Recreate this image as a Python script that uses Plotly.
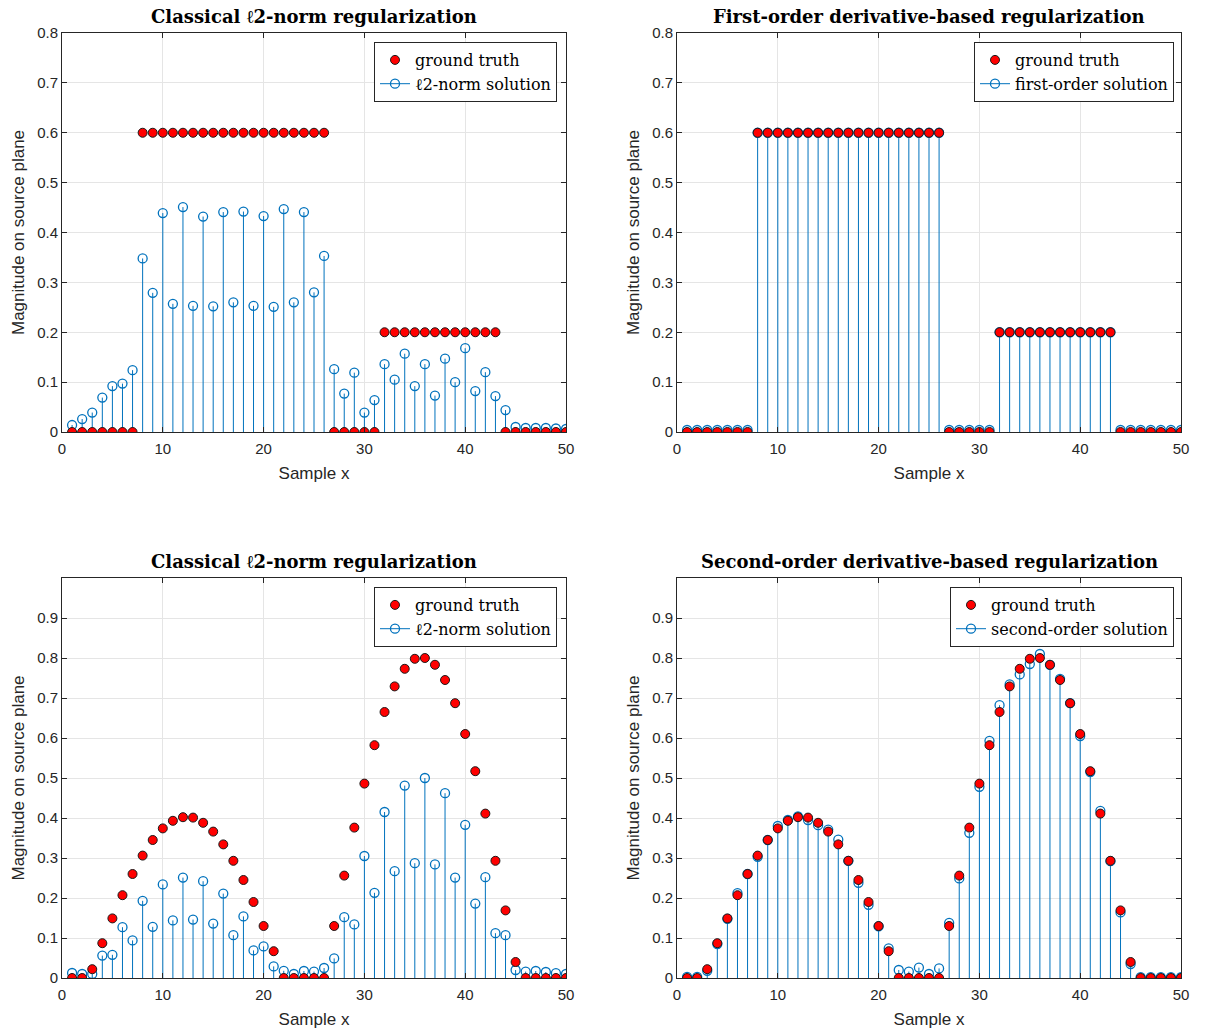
import plotly.graph_objects as go

# ---------------- data ----------------
x = list(range(1, 51))

gt_top = [0.0]*7 + [0.6]*19 + [0.0]*5 + [0.2]*12 + [0.0]*7

l2_top = [0.014, 0.026, 0.039, 0.069, 0.092, 0.097, 0.124, 0.348, 0.279, 0.439,
          0.257, 0.451, 0.253, 0.432, 0.252, 0.441, 0.260, 0.442, 0.253, 0.433,
          0.251, 0.447, 0.260, 0.441, 0.280, 0.353, 0.126, 0.077, 0.119, 0.039,
          0.064, 0.136, 0.105, 0.157, 0.092, 0.136, 0.073, 0.147, 0.100, 0.168,
          0.082, 0.120, 0.072, 0.044, 0.010, 0.008, 0.008, 0.008, 0.007, 0.006]

first_order = [0.004]*7 + [0.6]*19 + [0.004]*5 + [0.2]*12 + [0.004]*7

gt_bottom = [0.0, 0.0, 0.022, 0.087, 0.149, 0.207, 0.260, 0.306, 0.345, 0.374,
             0.393, 0.402, 0.401, 0.388, 0.366, 0.334, 0.293, 0.245, 0.190, 0.130,
             0.067, 0.0, 0.0, 0.0, 0.0, 0.0, 0.130, 0.256, 0.376, 0.486,
             0.582, 0.665, 0.729, 0.773, 0.798, 0.800, 0.783, 0.745, 0.687, 0.610,
             0.517, 0.411, 0.293, 0.169, 0.040, 0.0, 0.0, 0.0, 0.0, 0.0]

l2_bottom = [0.0125, 0.010, 0.010, 0.056, 0.058, 0.127, 0.094, 0.193, 0.128, 0.234,
             0.144, 0.251, 0.146, 0.242, 0.136, 0.211, 0.107, 0.154, 0.069, 0.079,
             0.029, 0.018, 0.010, 0.0175, 0.016, 0.025, 0.049, 0.152, 0.134, 0.305,
             0.213, 0.415, 0.267, 0.481, 0.287, 0.500, 0.284, 0.462, 0.251, 0.383,
             0.186, 0.252, 0.112, 0.107, 0.020, 0.016, 0.0175, 0.015, 0.012, 0.010]

second_order = [0.003, 0.003, 0.018, 0.085, 0.148, 0.212, 0.260, 0.303, 0.345, 0.380,
                0.395, 0.404, 0.395, 0.382, 0.371, 0.346, 0.293, 0.238, 0.183, 0.129,
                0.074, 0.020, 0.016, 0.026, 0.010, 0.024, 0.138, 0.249, 0.363, 0.478,
                0.593, 0.682, 0.734, 0.759, 0.785, 0.810, 0.783, 0.748, 0.687, 0.605,
                0.515, 0.418, 0.292, 0.164, 0.035, 0.002, 0.002, 0.002, 0.002, 0.002]

x_ticks = [0, 10, 20, 30, 40, 50]
y_ticks_top = [0, 0.1, 0.2, 0.3, 0.4, 0.5, 0.6, 0.7, 0.8]
y_ticks_bottom = [0, 0.1, 0.2, 0.3, 0.4, 0.5, 0.6, 0.7, 0.8, 0.9]

titles = ["Classical ℓ2-norm regularization",
          "First-order derivative-based regularization",
          "Classical ℓ2-norm regularization",
          "Second-order derivative-based regularization"]
sol_names = ["ℓ2-norm solution", "first-order solution",
             "ℓ2-norm solution", "second-order solution"]

# ---------------- styling ----------------
W, H = 1216, 1030
BLUE = "#0072BD"
SERIF = "DejaVu Serif, Liberation Serif, serif"
SANS = "Liberation Sans, Arial, sans-serif"
AXC = "#262626"

# pixel boxes of the axes [left, right, top, bottom]
boxes = [(62, 566, 33, 432), (677, 1181, 33, 432),
         (62, 566, 578, 978), (677, 1181, 578, 978)]
legend_right = [557, 1174, 557, 1174]

panels = [(gt_top, l2_top, y_ticks_top, [0, 0.8]),
          (gt_top, first_order, y_ticks_top, [0, 0.8]),
          (gt_bottom, l2_bottom, y_ticks_bottom, [0, 1.0]),
          (gt_bottom, second_order, y_ticks_bottom, [0, 1.0])]

fig = go.Figure()
annotations = []
layout = {}

for i, ((gt, sol, yt, yr), (l, r, t, b)) in enumerate(zip(panels, boxes)):
    n = i + 1
    xa = "x" if n == 1 else f"x{n}"
    ya = "y" if n == 1 else f"y{n}"
    lg = "legend" if n == 1 else f"legend{n}"

    sx, sy = [], []
    for xi, yi in zip(x, sol):
        sx += [xi, xi, None]
        sy += [0, yi, None]

    fig.add_trace(go.Scatter(x=sx, y=sy, mode="lines", line=dict(color=BLUE, width=1),
                             showlegend=False, hoverinfo="skip", xaxis=xa, yaxis=ya))
    fig.add_trace(go.Scatter(x=x, y=sol, mode="markers",
                             marker=dict(symbol="circle-open", size=9, color=BLUE,
                                         line=dict(width=1.3, color=BLUE)),
                             showlegend=False, xaxis=xa, yaxis=ya))
    fig.add_trace(go.Scatter(x=x, y=gt, mode="markers", name="ground truth",
                             marker=dict(symbol="circle", size=9, color="#ff0000",
                                         line=dict(width=1, color="#1a1a1a")),
                             showlegend=True, legend=lg, legendrank=1,
                             xaxis=xa, yaxis=ya))
    fig.add_trace(go.Scatter(x=[None], y=[None], mode="lines+markers", name=sol_names[i],
                             line=dict(color=BLUE, width=1),
                             marker=dict(symbol="circle-open", size=9, color=BLUE,
                                         line=dict(width=1.3, color=BLUE)),
                             showlegend=True, legend=lg, legendrank=2,
                             xaxis=xa, yaxis=ya))

    xd = [l / W, r / W]
    yd = [1 - b / H, 1 - t / H]
    common = dict(showline=True, linecolor=AXC, linewidth=1, mirror="ticks",
                  ticks="inside", ticklen=5, tickcolor=AXC, automargin=False,
                  showgrid=True, gridcolor="#e5e5e5", gridwidth=1,
                  zeroline=False, tickfont=dict(family=SANS, size=15, color=AXC),
                  fixedrange=True)
    layout[f"xaxis{'' if n == 1 else n}"] = dict(
        common, domain=xd, range=[0, 50], tickvals=x_ticks,
        anchor=ya, ticklabelstandoff=3,
        title=dict(text="Sample x", font=dict(family=SANS, size=17, color=AXC), standoff=11))
    layout[f"yaxis{'' if n == 1 else n}"] = dict(
        common, domain=yd, range=yr, tickvals=yt,
        ticktext=[("0" if v == 0 else f"{v:.1f}") for v in yt],
        anchor=xa,
        title=dict(text="Magnitude on source plane",
                   font=dict(family=SANS, size=17, color=AXC), standoff=8))
    layout[lg] = dict(x=legend_right[i] / W, xanchor="right", y=1 - (t + 9) / H, yanchor="top",
                      bgcolor="white", bordercolor=AXC, borderwidth=1,
                      font=dict(family=SERIF, size=16, color="black"),
                      traceorder="normal", tracegroupgap=0, itemwidth=30)
    annotations.append(dict(text=f"<b>{titles[i]}</b>", x=(l + r) / 2 / W, y=1 - (t - 17) / H,
                            xref="paper", yref="paper", xanchor="center", yanchor="middle",
                            showarrow=False, font=dict(family=SERIF, size=18, color="black")))

fig.update_layout(width=W, height=H, margin=dict(l=0, r=0, t=0, b=0, autoexpand=False),
                  paper_bgcolor="white", plot_bgcolor="white",
                  annotations=annotations, **layout)

fig.write_html("out.html")
